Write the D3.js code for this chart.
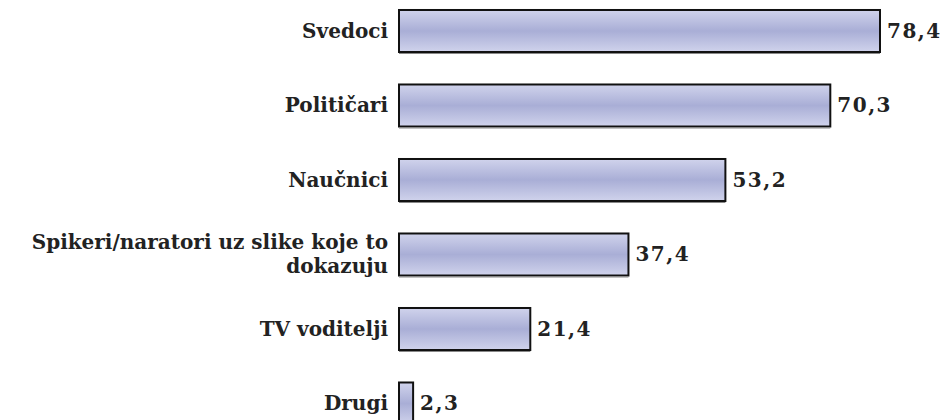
<!DOCTYPE html>
<html><head><meta charset="utf-8">
<script src="https://cdn.jsdelivr.net/npm/d3@7"></script>
<style>body{margin:0;background:#fff}svg{display:block}</style>
</head><body>
<svg id="c" width="944" height="420"></svg>
<script>
const categories = ["Svedoci","Političari","Naučnici","Spikeri/naratori uz slike koje to dokazuju","TV voditelji","Drugi"];
const labelLines = [["Svedoci"],["Političari"],["Naučnici"],["Spikeri/naratori uz slike koje to","dokazuju"],["TV voditelji"],["Drugi"]];
const values = [78.4,70.3,53.2,37.4,21.4,2.3];
const valueLabels = ["78,4","70,3","53,2","37,4","21,4","2,3"];

const svg = d3.select("#c");
const defs = svg.append("defs");
const g = defs.append("linearGradient").attr("id","barg").attr("x1",0).attr("y1",0).attr("x2",0).attr("y2",1);
g.append("stop").attr("offset","0%").attr("stop-color","#d0d3ec");
g.append("stop").attr("offset","50%").attr("stop-color","#a9aed6");
g.append("stop").attr("offset","100%").attr("stop-color","#d0d3ec");

const x = d3.scaleLinear().domain([0,78.4]).range([399,880]);
const y = d3.scaleBand().domain(categories).range([-6.25,440.75]).paddingInner(0.436).paddingOuter(0.218);
const font = "'DejaVu Serif', serif";

const rows = svg.selectAll("g.row").data(categories).enter().append("g").attr("class","row");
rows.append("rect")
  .attr("x", x(0))
  .attr("y", d=>y(d))
  .attr("width", (d,i)=>x(values[i])-x(0))
  .attr("height", y.bandwidth())
  .attr("fill","url(#barg)")
  .attr("stroke","#111").attr("stroke-width",2);
rows.append("line")
  .attr("x1", x(0)).attr("x2",(d,i)=>x(values[i]))
  .attr("y1", d=>y(d)+y.bandwidth()+1.5).attr("y2", d=>y(d)+y.bandwidth()+1.5)
  .attr("stroke","#888").attr("stroke-width",1);

rows.each(function(d,i){
  const lines = labelLines[i];
  const cy = y(d)+y.bandwidth()/2;
  const t = d3.select(this).append("text")
    .attr("text-anchor","end")
    .attr("font-family",font).attr("font-weight","bold").attr("font-size",20)
    .attr("fill","#222");
  const lh = 23.5;
  lines.forEach((ln,k)=>{
    t.append("tspan").attr("x",388).attr("y", cy + 6.5 + (k-(lines.length-1)/2)*lh).text(ln);
  });
});
rows.append("text")
  .attr("x",(d,i)=>x(values[i])+7)
  .attr("y", d=>y(d)+y.bandwidth()/2+6.5)
  .attr("font-family",font).attr("font-weight","bold").attr("font-size",20)
  .attr("letter-spacing",1.5)
  .attr("fill","#222")
  .text((d,i)=>valueLabels[i]);
</script>
</body></html>
